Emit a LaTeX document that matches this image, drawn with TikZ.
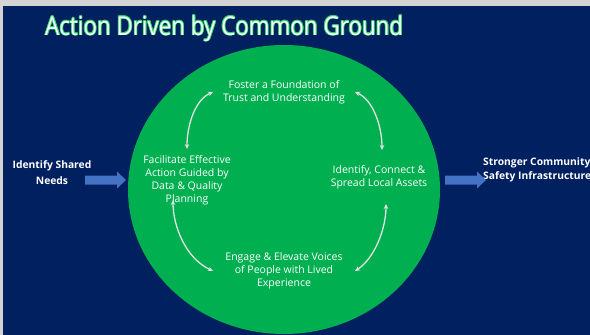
\documentclass[tikz,border=0pt]{standalone}
\usepackage{fontspec}
\setmainfont{Open Sans}
\newfontfamily\titlefam[FakeStretch=0.86]{Open Sans}
\usetikzlibrary{arrows.meta,calc}
\definecolor{navy}{HTML}{002060}
\definecolor{pgreen}{HTML}{00B050}
\definecolor{glow}{HTML}{2ED46A}
\definecolor{ablue}{HTML}{4472C4}
\definecolor{edgegray}{HTML}{D4D4D4}
\definecolor{cyc}{HTML}{E2E2E2}
\tikzset{
  inner/.style={text=white, font=\fontsize{10.5}{13}\selectfont, align=center, inner sep=0pt},
  side/.style={text=white, font=\bfseries\fontsize{10.3}{15}\selectfont, inner sep=0pt},
  cycarrow/.style={draw=cyc, line width=1.3pt, {Stealth[length=5pt,width=4.5pt]}-{Stealth[length=5pt,width=4.5pt]}},
  blockarrow/.style={fill=ablue},
  titlefont/.style={font=\titlefam\fontsize{26}{28}\selectfont, inner sep=0pt, anchor=base west}
}
\begin{document}
\begin{tikzpicture}[x=1pt,y=-1pt]
\useasboundingbox (0,0) rectangle (590,335);
\clip (0,0) rectangle (590,335);
\fill[edgegray] (0,0) rectangle (590,335);
\fill[navy] (3,6) rectangle (590,335);
% title with glow
\foreach \dx/\dy in {-0.8/0,0.8/0,0/-0.8,0/0.8,-0.6/-0.6,0.6/0.6,-0.6/0.6,0.6/-0.6}
  \node[titlefont, text=glow] at ($(45,35)+(\dx,\dy)$) {Action Driven by Common Ground};
\node[titlefont, text=white] (title) at (45,35) {Action Driven by Common Ground};
% big circle
\fill[pgreen] (284,189.5) ellipse [x radius=156, y radius=144.5];
% cycle texts
\node[inner] (foster) at (284,92.5) {Foster a Foundation of\\Trust and Understanding};
\node[inner] (facil) at (187,180) {Facilitate Effective\\Action Guided by\\Data \& Quality\\Planning};
\node[inner] (ident) at (379,177.5) {Identify, Connect \&\\Spread Local Assets};
\node[inner] (engage) at (284,271) {Engage \& Elevate Voices\\of People with Lived\\Experience};
% cycle arrows
\coordinate (a1s) at (213,92); \coordinate (a1e) at (187,149);
\coordinate (a2s) at (355,92); \coordinate (a2e) at (382,150);
\coordinate (a3s) at (173,200); \coordinate (a3e) at (213,271);
\coordinate (a4s) at (386,204); \coordinate (a4e) at (355,271);
\draw[cycarrow] (a1s) .. controls (195,100) and (187,125) .. (a1e);
\draw[cycarrow] (a2s) .. controls (373,100) and (382,126) .. (a2e);
\draw[cycarrow] (a3s) .. controls (173,225) and (185,258) .. (a3e);
\draw[cycarrow] (a4s) .. controls (386,228) and (375,258) .. (a4e);
% side texts
\node[side, align=center, font=\bfseries\fontsize{10.3}{16}\selectfont] (needs) at (52,173) {Identify Shared\\Needs};
\node[side, align=left, anchor=west, font=\bfseries\fontsize{10.3}{14}\selectfont] (strong) at (483,170) {Stronger Community\\Safety Infrastructure};
% block arrows
\fill[blockarrow] (85,175.5) -- (117,175.5) -- (117,171.5) -- (126,180) -- (117,188.5) -- (117,184.5) -- (85,184.5) -- cycle;
\fill[blockarrow] (445,175.5) -- (477,175.5) -- (477,171.5) -- (486,180) -- (477,188.5) -- (477,184.5) -- (445,184.5) -- cycle;
\end{tikzpicture}
\end{document}
